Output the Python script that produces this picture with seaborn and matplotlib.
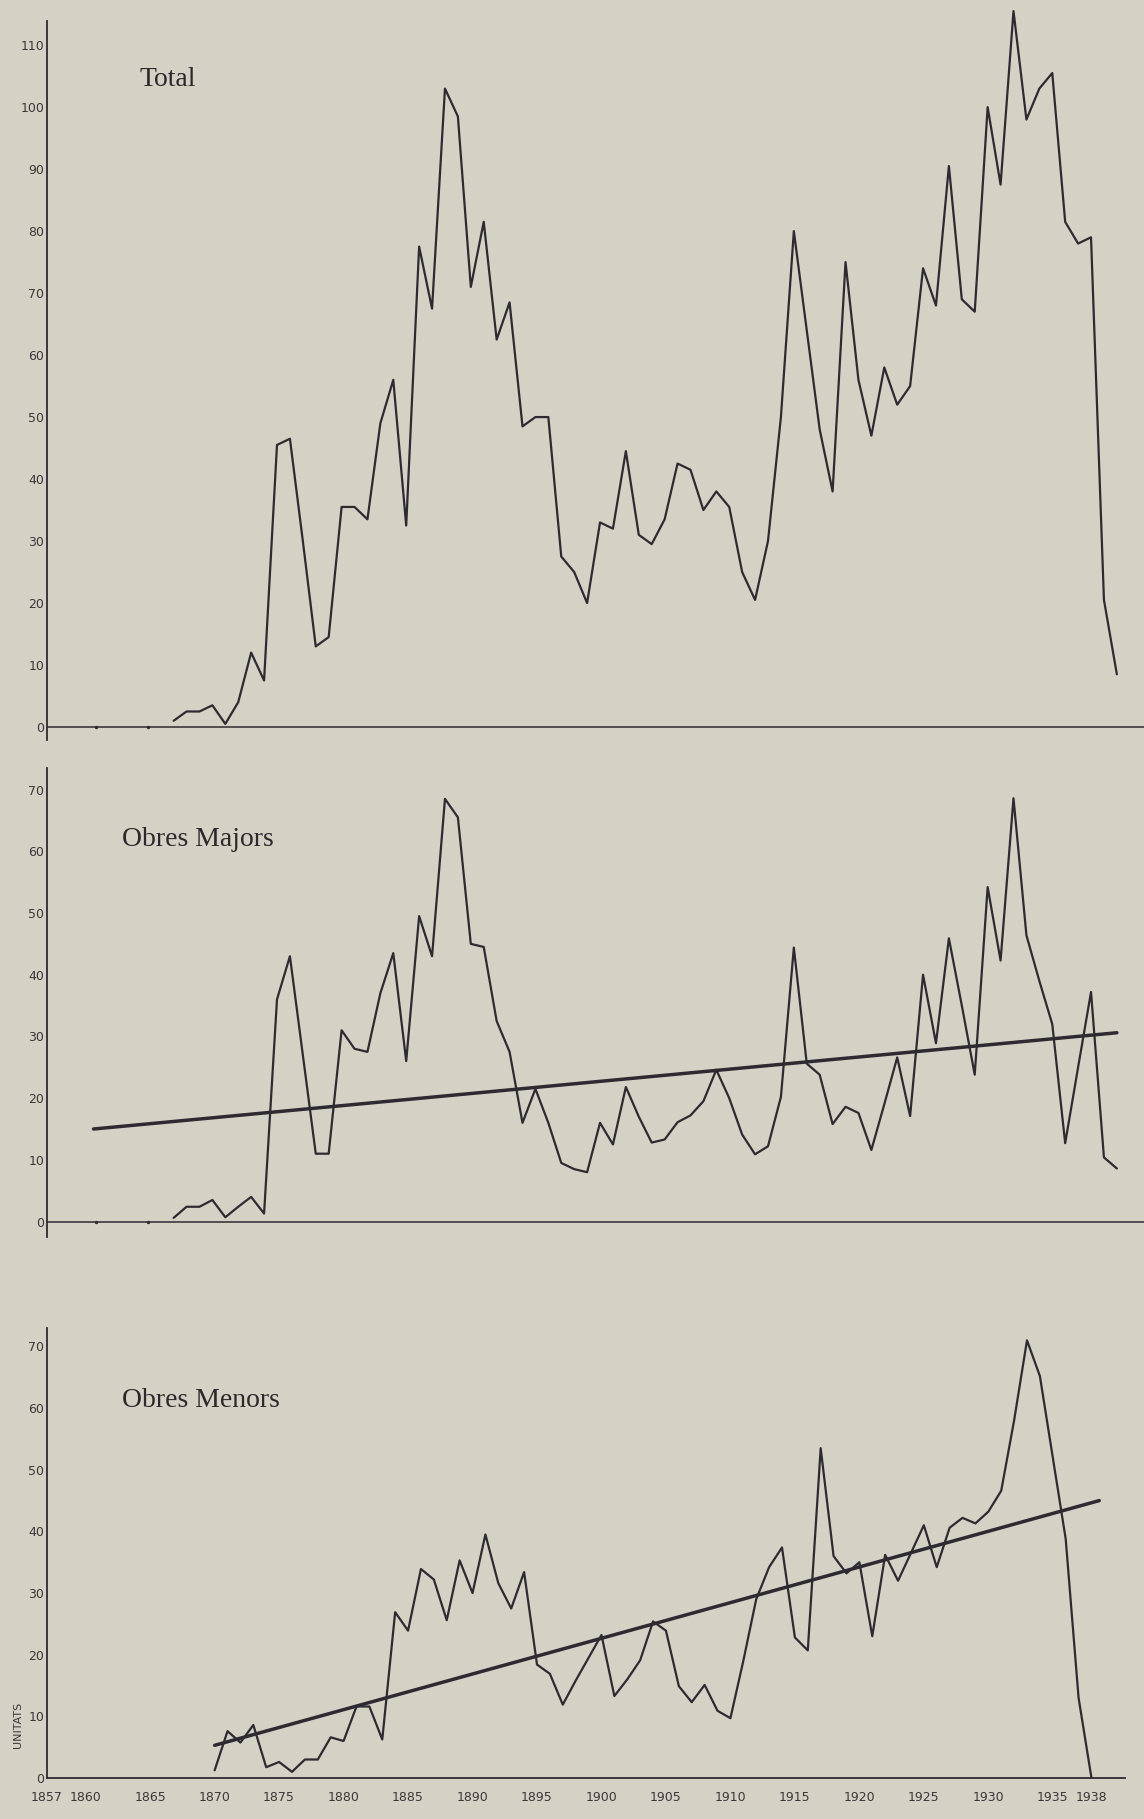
import matplotlib
matplotlib.use("Agg")
import matplotlib.pyplot as plt
from matplotlib import font_manager
import pandas as pd
import seaborn as sns

# ---------------- data ----------------
years_total = list(range(1865, 1939))
total = [1, 2.5, 2.5, 3.5, 0.5, 4, 12, 7.5, 45.5, 46.5,
         30, 13, 14.5, 35.5, 35.5, 33.5, 49, 56, 32.5, 77.5,
         67.5, 103, 98.5, 71, 81.5, 62.5, 68.5, 48.5, 50, 50,
         27.5, 25, 20, 33, 32, 44.5, 31, 29.5, 33.5, 42.5,
         41.5, 35, 38, 35.5, 25, 20.5, 30, 50, 80, 64,
         48, 38, 75, 56, 47, 58, 52, 55, 74, 68,
         90.5, 69, 67, 100, 87.5, 115.5, 98, 103, 105.5, 81.5,
         78, 79, 20.5, 8.5]

years_majors = list(range(1865, 1939))
majors = [0.6, 2.4, 2.4, 3.5, 0.7, 2.4, 4, 1.3, 36, 43,
          27, 11, 11, 31, 28, 27.5, 37, 43.5, 26, 49.5,
          43, 68.5, 65.5, 45, 44.5, 32.5, 27.5, 16, 21.5, 16,
          9.5, 8.5, 8, 16, 12.5, 21.8, 17, 12.8, 13.3, 16.1,
          17.2, 19.5, 24.6, 20, 14.1, 10.9, 12.2, 20.2, 44.4, 25.6,
          23.8, 15.8, 18.6, 17.6, 11.6, 19, 26.6, 17.1, 40, 28.9,
          45.9, 35, 23.8, 54.2, 42.3, 68.6, 46.4, 39, 32, 12.7,
          25, 37.2, 10.4, 8.6]

years_menors = list(range(1870, 1939))
menors = [1.25, 7.6, 5.75, 8.6, 1.75, 2.6, 1, 3, 3, 6.6,
          6, 11.6, 11.6, 6.25, 26.9, 23.9, 33.9, 32.2, 25.6, 35.3,
          30, 39.5, 31.6, 27.5, 33.4, 18.4, 16.9, 11.9, 15.8, 19.5,
          23.2, 13.3, 16, 19.1, 25.4, 23.9, 14.9, 12.3, 15.1, 10.9,
          9.7, 19, 29, 34.2, 37.4, 22.8, 20.7, 53.5, 36, 33.2,
          35, 23, 36.2, 32, 36.5, 41, 34.2, 40.6, 42.2, 41.3,
          43.2, 46.6, 58, 71, 65.2, 52, 38.8, 13, 0]

dot_years = [1859, 1863]
dot_values = [0, 0]

trend_majors_years = [1858.8, 1938.0]
trend_majors_values = [15.0, 30.6]
trend_menors_years = [1870.0, 1938.6]
trend_menors_values = [5.3, 45.0]

yticks_total = list(range(0, 111, 10))
yticks_obres = list(range(0, 71, 10))
xtick_years = [1857] + list(range(1860, 1936, 5)) + [1938]
titles = ["Total", "Obres Majors", "Obres Menors"]
unit_label = "UNITATS"

# ---------------- style ----------------
W, H = 1144, 1819
PAPER = "#d4d2c5"
INK = "#2e2a32"
TXT = "#3a3739"

sns.set_theme(style="white")
names = {f.name for f in font_manager.fontManager.ttflist}
if "Liberation Sans Narrow" in names:
    tick_family, tick_size = "Liberation Sans Narrow", 10.5
else:
    tick_family, tick_size = "DejaVu Sans", 9
plt.rcParams["font.family"] = [tick_family, "DejaVu Sans"]
plt.rcParams["axes.facecolor"] = "none"

fig = plt.figure(figsize=(W / 100, H / 100), dpi=100, facecolor=PAPER)


def px_axes(left, top, right, bottom):
    return fig.add_axes([left / W, 1 - bottom / H, (right - left) / W, (bottom - top) / H])


def style_axes(ax, yticks, show_bottom):
    for s in ["top", "right"]:
        ax.spines[s].set_visible(False)
    ax.spines["left"].set_color(INK)
    ax.spines["left"].set_linewidth(1.3)
    if show_bottom:
        ax.spines["bottom"].set_color(INK)
        ax.spines["bottom"].set_linewidth(1.3)
    else:
        ax.spines["bottom"].set_visible(False)
        ax.axhline(0, color=INK, lw=1.1, zorder=1)
    ax.set_yticks(yticks)
    ax.set_yticklabels([str(v) for v in yticks])
    ax.tick_params(axis="y", direction="in", length=5, width=1.1, pad=2,
                   labelsize=tick_size, colors=INK, labelcolor=TXT)
    ax.grid(False)
    ax.set_xlabel("")
    ax.set_ylabel("")


def line(ax, xs, ys, lw=1.6, clip=True):
    df = pd.DataFrame({"year": xs, "value": ys})
    sns.lineplot(data=df, x="year", y="value", ax=ax, color=INK, linewidth=lw,
                 clip_on=clip, legend=False, estimator=None, sort=False)


# ---- Total ----
ax1 = px_axes(47, 21, 1144, 740)
line(ax1, years_total, total, clip=False)
sns.scatterplot(x=dot_years, y=dot_values, ax=ax1, color=INK, s=6, linewidth=0)
ax1.set_xlim(1855.2, 1940.1)
ax1.set_ylim(-2.1, 113.9)
ax1.set_xticks([])
style_axes(ax1, yticks_total, show_bottom=False)

# ---- Obres Majors ----
ax2 = px_axes(47, 768, 1144, 1237)
line(ax2, years_majors, majors)
line(ax2, trend_majors_years, trend_majors_values, lw=2.5)
sns.scatterplot(x=dot_years, y=dot_values, ax=ax2, color=INK, s=6, linewidth=0)
ax2.set_xlim(1855.2, 1940.1)
ax2.set_ylim(-2.5, 73.5)
ax2.set_xticks([])
style_axes(ax2, yticks_obres, show_bottom=False)

# ---- Obres Menors ----
ax3 = px_axes(47, 1328, 1125, 1778)
line(ax3, years_menors, menors)
line(ax3, trend_menors_years, trend_menors_values, lw=2.5)
ax3.set_xlim(1857.05, 1940.6)
ax3.set_ylim(0, 73)
style_axes(ax3, yticks_obres, show_bottom=True)
ax3.set_xticks(xtick_years)
ax3.set_xticklabels([str(y) for y in xtick_years])
ax3.tick_params(axis="x", direction="in", length=7, width=1.1, pad=9,
                labelsize=tick_size, colors=INK, labelcolor=TXT)
xt = ax3.xaxis.get_major_ticks()
for i in (0, len(xt) - 1):
    xt[i].tick1line.set_visible(False)

# ---- titles and unit label ----
title_pos = [(140, 79), (122, 839), (122, 1400)]
for t, (x, y) in zip(titles, title_pos):
    fig.text(x / W, 1 - y / H, t, family=["Liberation Serif", "DejaVu Serif"],
             size=20, ha="left", va="center", color="#2c292d")
fig.text(18 / W, 1 - 1725 / H, unit_label, rotation=90, size=8,
         family=["DejaVu Sans"], ha="center", va="center", color=TXT)

fig.savefig("out.png", dpi=100, facecolor=fig.get_facecolor())
